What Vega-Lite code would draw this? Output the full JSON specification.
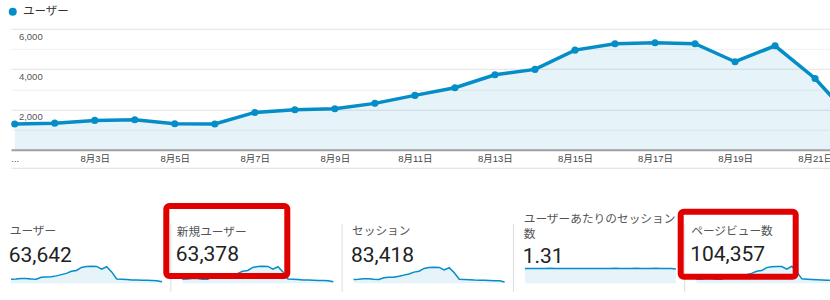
{
  "$schema": "https://vega.github.io/schema/vega-lite/v6.json",
  "background": "#ffffff",
  "padding": {"left": 7, "top": 5.75, "right": 0, "bottom": 0},
  "config": {"view": {"stroke": null}, "font": "Noto Sans CJK JP", "legend": {"strokeWidth": 6}},
  "datasets": {
    "totals": [
      {"card": "users", "label": "ユーザー", "total": "63,642"},
      {"card": "newusers", "label": "新規ユーザー", "total": "63,378"},
      {"card": "sessions", "label": "セッション", "total": "83,418"},
      {"card": "spu", "label": "ユーザーあたりのセッション数", "total": "1.31"},
      {"card": "pageviews", "label": "ページビュー数", "total": "104,357"}
    ],
    "daily": [
      {"card":"users","day":1,"value":1280},{"card":"users","day":2,"value":1320},{"card":"users","day":3,"value":1455},{"card":"users","day":4,"value":1490},{"card":"users","day":5,"value":1290},{"card":"users","day":6,"value":1275},{"card":"users","day":7,"value":1850},{"card":"users","day":8,"value":1985},{"card":"users","day":9,"value":2035},{"card":"users","day":10,"value":2300},{"card":"users","day":11,"value":2695},{"card":"users","day":12,"value":3075},{"card":"users","day":13,"value":3720},{"card":"users","day":14,"value":3985},{"card":"users","day":15,"value":4940},{"card":"users","day":16,"value":5255},{"card":"users","day":17,"value":5305},{"card":"users","day":18,"value":5255},{"card":"users","day":19,"value":4365},{"card":"users","day":20,"value":5155},{"card":"users","day":21,"value":3535},{"card":"users","day":22,"value":1340},{"card":"users","day":23,"value":1250},{"card":"users","day":24,"value":1150},{"card":"users","day":25,"value":1050},{"card":"users","day":26,"value":1000},{"card":"users","day":27,"value":950},{"card":"users","day":28,"value":900},{"card":"users","day":29,"value":850},{"card":"users","day":30,"value":800},{"card":"users","day":31,"value":450},
      {"card":"newusers","day":1,"value":1265},{"card":"newusers","day":2,"value":1305},{"card":"newusers","day":3,"value":1440},{"card":"newusers","day":4,"value":1475},{"card":"newusers","day":5,"value":1280},{"card":"newusers","day":6,"value":1265},{"card":"newusers","day":7,"value":1835},{"card":"newusers","day":8,"value":1970},{"card":"newusers","day":9,"value":2020},{"card":"newusers","day":10,"value":2285},{"card":"newusers","day":11,"value":2680},{"card":"newusers","day":12,"value":3060},{"card":"newusers","day":13,"value":3700},{"card":"newusers","day":14,"value":3965},{"card":"newusers","day":15,"value":4920},{"card":"newusers","day":16,"value":5235},{"card":"newusers","day":17,"value":5280},{"card":"newusers","day":18,"value":5230},{"card":"newusers","day":19,"value":4345},{"card":"newusers","day":20,"value":5130},{"card":"newusers","day":21,"value":3515},{"card":"newusers","day":22,"value":1330},{"card":"newusers","day":23,"value":1240},{"card":"newusers","day":24,"value":1140},{"card":"newusers","day":25,"value":1040},{"card":"newusers","day":26,"value":990},{"card":"newusers","day":27,"value":940},{"card":"newusers","day":28,"value":890},{"card":"newusers","day":29,"value":840},{"card":"newusers","day":30,"value":790},{"card":"newusers","day":31,"value":445},
      {"card":"sessions","day":1,"value":1664},{"card":"sessions","day":2,"value":1716},{"card":"sessions","day":3,"value":1906},{"card":"sessions","day":4,"value":1937},{"card":"sessions","day":5,"value":1690},{"card":"sessions","day":6,"value":1683},{"card":"sessions","day":7,"value":2424},{"card":"sessions","day":8,"value":2581},{"card":"sessions","day":9,"value":2646},{"card":"sessions","day":10,"value":3013},{"card":"sessions","day":11,"value":3530},{"card":"sessions","day":12,"value":3998},{"card":"sessions","day":13,"value":4836},{"card":"sessions","day":14,"value":5220},{"card":"sessions","day":15,"value":6422},{"card":"sessions","day":16,"value":6832},{"card":"sessions","day":17,"value":6950},{"card":"sessions","day":18,"value":6884},{"card":"sessions","day":19,"value":5762},{"card":"sessions","day":20,"value":6753},{"card":"sessions","day":21,"value":4596},{"card":"sessions","day":22,"value":1755},{"card":"sessions","day":23,"value":1650},{"card":"sessions","day":24,"value":1507},{"card":"sessions","day":25,"value":1376},{"card":"sessions","day":26,"value":1310},{"card":"sessions","day":27,"value":1254},{"card":"sessions","day":28,"value":1179},{"card":"sessions","day":29,"value":1114},{"card":"sessions","day":30,"value":1040},{"card":"sessions","day":31,"value":572},
      {"card":"spu","day":1,"value":1.30},{"card":"spu","day":2,"value":1.30},{"card":"spu","day":3,"value":1.31},{"card":"spu","day":4,"value":1.30},{"card":"spu","day":5,"value":1.31},{"card":"spu","day":6,"value":1.32},{"card":"spu","day":7,"value":1.31},{"card":"spu","day":8,"value":1.30},{"card":"spu","day":9,"value":1.30},{"card":"spu","day":10,"value":1.31},{"card":"spu","day":11,"value":1.31},{"card":"spu","day":12,"value":1.30},{"card":"spu","day":13,"value":1.30},{"card":"spu","day":14,"value":1.31},{"card":"spu","day":15,"value":1.30},{"card":"spu","day":16,"value":1.30},{"card":"spu","day":17,"value":1.31},{"card":"spu","day":18,"value":1.31},{"card":"spu","day":19,"value":1.32},{"card":"spu","day":20,"value":1.31},{"card":"spu","day":21,"value":1.30},{"card":"spu","day":22,"value":1.31},{"card":"spu","day":23,"value":1.32},{"card":"spu","day":24,"value":1.31},{"card":"spu","day":25,"value":1.31},{"card":"spu","day":26,"value":1.31},{"card":"spu","day":27,"value":1.32},{"card":"spu","day":28,"value":1.31},{"card":"spu","day":29,"value":1.31},{"card":"spu","day":30,"value":1.30},{"card":"spu","day":31,"value":1.27},
      {"card":"pageviews","day":1,"value":2050},{"card":"pageviews","day":2,"value":2150},{"card":"pageviews","day":3,"value":2380},{"card":"pageviews","day":4,"value":2420},{"card":"pageviews","day":5,"value":2100},{"card":"pageviews","day":6,"value":2080},{"card":"pageviews","day":7,"value":3000},{"card":"pageviews","day":8,"value":3250},{"card":"pageviews","day":9,"value":3300},{"card":"pageviews","day":10,"value":3750},{"card":"pageviews","day":11,"value":4400},{"card":"pageviews","day":12,"value":5050},{"card":"pageviews","day":13,"value":6100},{"card":"pageviews","day":14,"value":6500},{"card":"pageviews","day":15,"value":8000},{"card":"pageviews","day":16,"value":8500},{"card":"pageviews","day":17,"value":8600},{"card":"pageviews","day":18,"value":8550},{"card":"pageviews","day":19,"value":7200},{"card":"pageviews","day":20,"value":8700},{"card":"pageviews","day":21,"value":5800},{"card":"pageviews","day":22,"value":2250},{"card":"pageviews","day":23,"value":2080},{"card":"pageviews","day":24,"value":1900},{"card":"pageviews","day":25,"value":1750},{"card":"pageviews","day":26,"value":1650},{"card":"pageviews","day":27,"value":1580},{"card":"pageviews","day":28,"value":1500},{"card":"pageviews","day":29,"value":1420},{"card":"pageviews","day":30,"value":1330},{"card":"pageviews","day":31,"value":750}
    ]
  },
  "bounds": "flush",
  "spacing": 73.5,
  "resolve": {"scale": {"color": "independent", "x": "independent", "y": "independent"}, "legend": {"color": "independent"}},
  "vconcat": [
    {
      "width": 821.7,
      "height": 121,
      "data": {"name": "daily"},
      "transform": [
        {"filter": "datum.card === 'users'"},
        {"lookup": "card", "from": {"data": {"name": "totals"}, "key": "card", "fields": ["label", "total"]}}
      ],
      "resolve": {"scale": {"x": "independent", "y": "independent"}, "axis": {"x": "independent", "y": "independent"}},
      "layer": [
        {
          "mark": {"type": "area", "color": "#058dc7", "opacity": 0.1, "clip": true},
          "encoding": {
            "x": {"field": "day", "type": "quantitative", "scale": {"domain": [0.9075, 21.44], "nice": false, "zero": false},
                  "axis": {"orient": "bottom", "offset": 18, "labels": false, "ticks": false, "grid": false, "domainColor": "#dddddd", "domainWidth": 1, "title": null}},
            "y": {"field": "value", "type": "quantitative", "scale": {"domain": [0, 6000], "nice": false},
                  "axis": {"orient": "left", "values": [1000, 3000, 5000], "grid": true, "gridColor": "#f0f0f0",
                           "domain": false, "ticks": false, "labels": false, "title": null}}
          }
        },
        {
          "layer": [
            {
              "mark": {"type": "line", "color": "#058dc7", "strokeWidth": 3.5, "clip": true},
              "encoding": {
                "x": {"field": "day", "type": "quantitative", "scale": {"domain": [0.9075, 21.44], "nice": false, "zero": false},
                      "axis": {"orient": "bottom", "values": [1, 3, 5, 7, 9, 11, 13, 15, 17, 19, 21],
                               "labelExpr": "datum.value === 1 ? '...' : '8月' + datum.value + '日'",
                               "grid": false, "ticks": false, "domainColor": "#a0a0a0", "domainWidth": 2, "labelPadding": 4,
                               "labelFontSize": 9.5, "labelFont": "Liberation Sans, Noto Sans CJK JP", "labelColor": "#444444",
                               "title": null, "labelOverlap": false, "labelBound": false, "labelFlush": false}},
                "y": {"field": "value", "type": "quantitative", "scale": {"domain": [0, 6000], "nice": false},
                      "axis": {"orient": "left", "values": [2000, 4000, 6000], "grid": true, "gridColor": "#e2e2e2",
                               "domain": false, "ticks": false, "format": ",.0f",
                               "labelAlign": "left", "labelBaseline": "middle", "labelPadding": -7.4, "labelOffset": 7.5,
                               "labelFontSize": 9.5, "labelFont": "Liberation Sans", "labelColor": "#555555", "title": null,
                               "labelBound": false, "labelOverlap": false, "labelFlush": false}}
              }
            },
            {
              "transform": [{"filter": "datum.day <= 21"}],
              "mark": {"type": "point", "filled": true, "size": 50, "opacity": 1},
              "encoding": {
                "x": {"field": "day", "type": "quantitative"},
                "y": {"field": "value", "type": "quantitative"},
                "color": {"field": "label", "type": "nominal", "scale": {"range": ["#058dc7"]},
                          "legend": {"orient": "none", "legendX": -4, "legendY": -22.75, "title": null, "symbolType": "circle",
                                     "symbolSize": 64, "symbolStrokeWidth": 0, "labelFont": "Noto Sans CJK JP", "labelFontSize": 11.5,
                                     "labelColor": "#333333", "labelOffset": 4.4, "padding": 0}}
              }
            }
          ]
        }
      ]
    },
    {
      "bounds": "flush",
      "spacing": 20.3,
      "resolve": {"scale": {"color": "independent", "x": "independent", "y": "independent"}, "legend": {"color": "independent"}},
      "hconcat": [
        {
          "width": 151, "height": 68,
          "data": {"name": "daily"},
          "transform": [{"filter": "datum.card === 'users'"}, {"lookup": "card", "from": {"data": {"name": "totals"}, "key": "card", "fields": ["label", "total"]}}],
          "layer": [
            {"mark": {"type": "area", "color": "#058dc7", "opacity": 0.1},
             "encoding": {"x": {"field": "day", "type": "quantitative", "scale": {"domain": [1, 31], "nice": false}, "axis": null},
                          "y": {"field": "value", "type": "quantitative", "scale": {"domain": [-2496, 18724], "nice": false, "zero": false}, "axis": null},
                          "y2": {"datum": 0}}},
            {"mark": {"type": "line", "strokeWidth": 1.5},
             "encoding": {"x": {"field": "day", "type": "quantitative"}, "y": {"field": "value", "type": "quantitative"},
                          "color": {"field": "total", "type": "nominal", "scale": {"range": ["#058dc7"]}, "title": "ユーザー",
                                    "legend": {"orient": "none", "legendX": -1.3, "legendY": 3, "padding": 0,
                                               "titleFont": "Noto Sans CJK JP", "titleFontSize": 11.7, "titleFontWeight": "normal", "titleColor": "#555555",
                                               "labelFont": "Roboto", "labelFontSize": 21, "labelColor": "#222222", "labelOffset": -22,
                                               "symbolOpacity": 0, "symbolSize": 1, "symbolStrokeWidth": 0, "titlePadding": 7.5, "titleLimit": 300, "labelLimit": 300}}}}
          ]
        },
        {
          "width": 151, "height": 68,
          "data": {"name": "daily"},
          "transform": [{"filter": "datum.card === 'newusers'"}, {"lookup": "card", "from": {"data": {"name": "totals"}, "key": "card", "fields": ["label", "total"]}}],
          "layer": [
            {"mark": {"type": "area", "color": "#058dc7", "opacity": 0.1},
             "encoding": {"x": {"field": "day", "type": "quantitative", "scale": {"domain": [1, 31], "nice": false}, "axis": null},
                          "y": {"field": "value", "type": "quantitative", "scale": {"domain": [-2485, 18635], "nice": false, "zero": false},
                                "axis": {"orient": "left", "offset": 12, "domain": true, "domainColor": "#dddddd", "domainWidth": 1, "labels": false, "ticks": false, "grid": false, "title": null}},
                          "y2": {"datum": 0}}},
            {"mark": {"type": "line", "strokeWidth": 1.5},
             "encoding": {"x": {"field": "day", "type": "quantitative"}, "y": {"field": "value", "type": "quantitative"},
                          "color": {"field": "total", "type": "nominal", "scale": {"range": ["#058dc7"]}, "title": "新規ユーザー",
                                    "legend": {"orient": "none", "legendX": -16, "legendY": -17.2, "padding": 10.5,
                                               "strokeColor": "#e00000", "cornerRadius": 3,
                                               "titleFont": "Noto Sans CJK JP", "titleFontSize": 11.7, "titleFontWeight": "normal", "titleColor": "#555555",
                                               "titleBaseline": "line-top", "titleLineHeight": 31.1,
                                               "labelFont": "Roboto", "labelFontSize": 21, "labelColor": "#222222", "labelOffset": -110.5,
                                               "symbolOpacity": 0, "symbolSize": 1, "symbolStrokeWidth": 0, "symbolOffset": 88.5, "titlePadding": 16.6, "titleLimit": 300, "labelLimit": 300}}}}
          ]
        },
        {
          "width": 151, "height": 68,
          "data": {"name": "daily"},
          "transform": [{"filter": "datum.card === 'sessions'"}, {"lookup": "card", "from": {"data": {"name": "totals"}, "key": "card", "fields": ["label", "total"]}}],
          "layer": [
            {"mark": {"type": "area", "color": "#058dc7", "opacity": 0.1},
             "encoding": {"x": {"field": "day", "type": "quantitative", "scale": {"domain": [1, 31], "nice": false}, "axis": null},
                          "y": {"field": "value", "type": "quantitative", "scale": {"domain": [-3475, 26063], "nice": false, "zero": false},
                                "axis": {"orient": "left", "offset": 12, "domain": true, "domainColor": "#dddddd", "domainWidth": 1, "labels": false, "ticks": false, "grid": false, "title": null}},
                          "y2": {"datum": 0}}},
            {"mark": {"type": "line", "strokeWidth": 1.5},
             "encoding": {"x": {"field": "day", "type": "quantitative"}, "y": {"field": "value", "type": "quantitative"},
                          "color": {"field": "total", "type": "nominal", "scale": {"range": ["#058dc7"]}, "title": "セッション",
                                    "legend": {"orient": "none", "legendX": -1.6, "legendY": 3, "padding": 0,
                                               "titleFont": "Noto Sans CJK JP", "titleFontSize": 11.7, "titleFontWeight": "normal", "titleColor": "#555555",
                                               "labelFont": "Roboto", "labelFontSize": 21, "labelColor": "#222222", "labelOffset": -22,
                                               "symbolOpacity": 0, "symbolSize": 1, "symbolStrokeWidth": 0, "titlePadding": 7.5, "titleLimit": 300, "labelLimit": 300}}}}
          ]
        },
        {
          "width": 151, "height": 68,
          "data": {"name": "daily"},
          "transform": [{"filter": "datum.card === 'spu'"}, {"lookup": "card", "from": {"data": {"name": "totals"}, "key": "card", "fields": ["label", "total"]}}],
          "layer": [
            {"mark": {"type": "area", "color": "#058dc7", "opacity": 0.1},
             "encoding": {"x": {"field": "day", "type": "quantitative", "scale": {"domain": [1, 31], "nice": false}, "axis": null},
                          "y": {"field": "value", "type": "quantitative", "scale": {"domain": [-0.708, 5.31], "nice": false, "zero": false},
                                "axis": {"orient": "left", "offset": 12, "domain": true, "domainColor": "#dddddd", "domainWidth": 1, "labels": false, "ticks": false, "grid": false, "title": null}},
                          "y2": {"datum": 0}}},
            {"mark": {"type": "line", "strokeWidth": 1.5},
             "encoding": {"x": {"field": "day", "type": "quantitative"}, "y": {"field": "value", "type": "quantitative"},
                          "color": {"field": "total", "type": "nominal", "scale": {"range": ["#058dc7"]}, "title": ["ユーザーあたりのセッション", "数"],
                                    "legend": {"orient": "none", "legendX": -1.2, "legendY": -9.3, "padding": 0,
                                               "titleFont": "Noto Sans CJK JP", "titleFontSize": 11.7, "titleFontWeight": "normal", "titleColor": "#555555", "titleLineHeight": 15,
                                               "labelFont": "Roboto", "labelFontSize": 21, "labelColor": "#222222", "labelOffset": -22,
                                               "symbolOpacity": 0, "symbolSize": 1, "symbolStrokeWidth": 0, "titlePadding": 5.8, "titleLimit": 300, "labelLimit": 300}}}}
          ]
        },
        {
          "width": 136.5, "height": 68,
          "data": {"name": "daily"},
          "transform": [{"filter": "datum.card === 'pageviews'"}, {"lookup": "card", "from": {"data": {"name": "totals"}, "key": "card", "fields": ["label", "total"]}}],
          "layer": [
            {"mark": {"type": "area", "color": "#058dc7", "opacity": 0.1, "clip": true},
             "encoding": {"x": {"field": "day", "type": "quantitative", "scale": {"domain": [1, 28.12], "nice": false}, "axis": null},
                          "y": {"field": "value", "type": "quantitative", "scale": {"domain": [-4094, 30706], "nice": false, "zero": false},
                                "axis": {"orient": "left", "offset": 12, "domain": true, "domainColor": "#dddddd", "domainWidth": 1, "labels": false, "ticks": false, "grid": false, "title": null}},
                          "y2": {"datum": 0}}},
            {"mark": {"type": "line", "strokeWidth": 1.5, "clip": true},
             "encoding": {"x": {"field": "day", "type": "quantitative"}, "y": {"field": "value", "type": "quantitative"},
                          "color": {"field": "total", "type": "nominal", "scale": {"range": ["#058dc7"]}, "title": "ページビュー数",
                                    "legend": {"orient": "none", "legendX": -15.5, "legendY": -11.5, "padding": 10.5,
                                               "strokeColor": "#e00000", "cornerRadius": 3,
                                               "titleFont": "Noto Sans CJK JP", "titleFontSize": 11.7, "titleFontWeight": "normal", "titleColor": "#555555",
                                               "titleBaseline": "line-top", "titleLineHeight": 19.7,
                                               "labelFont": "Roboto", "labelFontSize": 21, "labelColor": "#222222", "labelOffset": -104.5,
                                               "symbolOpacity": 0, "symbolSize": 1, "symbolStrokeWidth": 0, "symbolOffset": 82.5, "titlePadding": 10.9, "titleLimit": 300, "labelLimit": 300}}}}
          ]
        }
      ]
    }
  ]
}
